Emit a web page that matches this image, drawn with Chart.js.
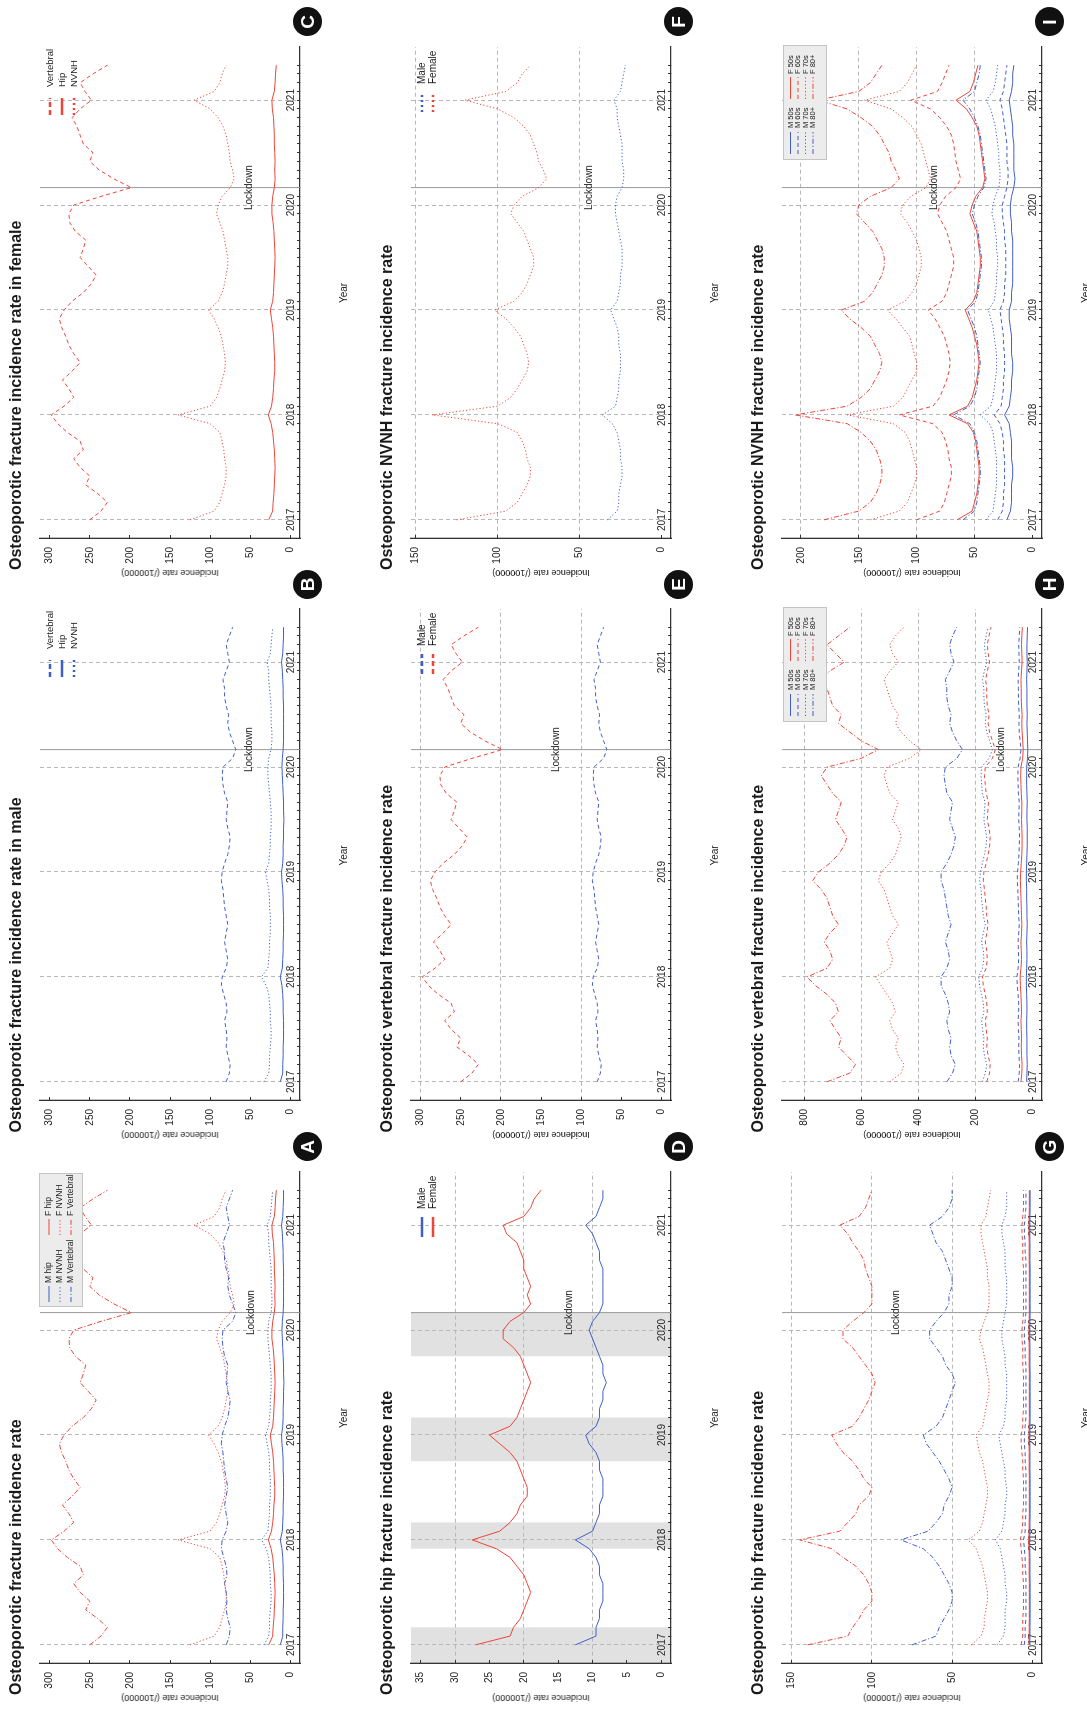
<!DOCTYPE html>
<html><head><meta charset="utf-8"><title>Osteoporotic fracture incidence</title>
<script src="https://cdn.jsdelivr.net/npm/chart.js@4.4.1/dist/chart.umd.min.js"></script>
<style>
html,body{margin:0;padding:0;background:#fff;}
body{width:1087px;height:1710px;overflow:hidden;position:relative;font-family:"Liberation Sans",Arial,Helvetica,sans-serif;color:#1a1a1a;}
#fig{position:absolute;left:0;top:0;width:1710px;height:1087px;transform-origin:0 0;transform:translate(0px,1710px) rotate(-90deg);overflow:hidden;background:#fff;}
.panel{position:absolute;width:562px;height:371px;}
.panel canvas{position:absolute;left:0;top:0;}
.ttl{position:absolute;left:15px;top:16px;transform:translateY(-50%);font-weight:bold;font-size:16px;white-space:nowrap;}
.xt{position:absolute;left:292px;top:343px;transform:translate(-50%,-50%);font-size:10px;white-space:nowrap;}
.yt{position:absolute;left:12px;top:170px;transform:translate(-50%,-50%) rotate(-90deg);font-size:9px;white-space:nowrap;}
.tag{position:absolute;width:29px;height:29px;border-radius:50%;background:#111;color:#fff;font-weight:bold;font-size:19px;line-height:29px;text-align:center;z-index:5;}
</style></head>
<body>
<div id="fig"></div>
<script>
// ---------------- data (monthly, Jan 2017 .. May 2021) ----------------
const yearLabels = ['2017','2018','2019','2020','2021'];
const lockdownMonth = 38;
const winterBands = [[-2.1,2],[11,14],[21,26],[33,38]];

const maleHip    = [12.5,9.5,9.5,9,9,8.5,8.5,8.5,9,9,9.5,10.5, 12.5,10,9.5,9,9,8.5,8.5,8.5,9,9,9.5,10.5, 11,9.5,9,9,8.5,8.5,8,8.5,8.5,9,9.5,10, 10.5,10,9,8.5,8.5,8.5,8.5,8.5,9,9,9.5,10, 11,9.5,9,8.5,8.5];
const femaleHip  = [27,22,21.5,20.5,20,19.5,19,19.5,20,21,22,24, 27.5,23.5,22,21,20.5,19.5,19.5,20,20.5,21,22,23.5, 25,22,21,20.5,20,19.5,19,19.5,20,20.5,21.5,23, 23,22,20,19,19.5,19,19.5,20,20,20.5,21,22.5, 23,20,19,18.5,17.5];
const maleVert   = [80,76,75,78,80,79,80,82,79,80,83,86, 85,80,78,80,82,80,78,80,82,83,84,86, 85,82,78,76,75,78,80,79,78,82,84,85, 84,72,68,72,76,78,77,80,82,82,84,80, 76,78,80,76,72];
const femaleVert = [250,236,228,240,255,250,262,270,258,262,278,290, 298,282,270,276,284,272,262,270,276,280,285,288, 282,272,258,248,242,252,262,258,255,268,275,276, 270,236,198,220,238,250,246,258,262,266,272,262, 248,256,262,246,228];
const maleNVNH   = [33,27,26,26,25,24,24,25,25,26,27,30, 36,28,27,26,26,25,25,25,26,26,27,29, 31,27,26,25,25,24,24,24,25,26,27,28, 28,27,24,23,23,24,24,24,25,26,27,27, 29,25,24,23,22];
const femaleNVNH = [125,95,88,85,82,80,80,82,83,85,88,100, 140,100,92,88,85,82,81,82,84,86,90,95, 102,90,85,82,80,78,78,80,82,84,88,92, 90,85,75,70,72,75,76,78,80,84,90,100, 120,95,88,85,80];

const hipM50 = [1.6,1.5,1.5,1.4,1.4,1.4,1.4,1.4,1.5,1.5,1.5,1.6, 1.7,1.5,1.5,1.4,1.4,1.4,1.4,1.4,1.5,1.5,1.5,1.6, 1.6,1.5,1.4,1.4,1.4,1.4,1.4,1.4,1.5,1.5,1.5,1.6, 1.6,1.5,1.4,1.4,1.4,1.4,1.4,1.4,1.5,1.5,1.5,1.6, 1.6,1.5,1.4,1.4,1.4];
const hipM60 = [5,4.5,4.5,4,4,4,4,4,4,4.5,4.5,5, 5.5,4.5,4.5,4,4,4,4,4,4,4.5,4.5,5, 5,4.5,4,4,4,4,4,4,4,4.5,4.5,5, 5,4.5,4,4,4,4,4,4,4,4.5,4.5,5, 5,4.5,4,4,4];
const hipM70 = [22,18,17,17,17,16,16,17,17,18,19,20, 23,19,18,17,17,16,16,17,17,18,19,20, 21,18,17,17,16,16,16,16,17,17,18,19, 19,18,17,16,16,16,16,17,17,17,18,19, 19,17,16,16,16];
const hipM80 = [75,60,58,55,52,50,50,52,55,58,62,68, 82,65,60,56,55,52,50,52,55,58,62,66, 68,60,56,54,52,50,48,50,54,56,60,64, 64,60,55,52,52,50,50,52,54,56,60,62, 64,56,52,50,50];
const hipF50 = [2.2,2,2,1.9,1.9,1.9,1.9,1.9,2,2,2,2.1, 2.3,2,2,1.9,1.9,1.9,1.9,1.9,2,2,2,2.1, 2.1,2,1.9,1.9,1.9,1.9,1.9,1.9,2,2,2,2.1, 2.1,2,1.9,1.9,1.9,1.9,1.9,1.9,2,2,2,2.1, 2.1,2,1.9,1.9,1.9];
const hipF60 = [7,6,6,6,5.5,5.5,5.5,5.5,6,6,6.5,7, 7.5,6.5,6,6,5.5,5.5,5.5,5.5,6,6,6.5,7, 7,6,6,5.5,5.5,5.5,5.5,5.5,6,6,6,6.5, 6.5,6,5.5,5.5,5.5,5.5,5.5,5.5,6,6,6,6.5, 6.5,6,5.5,5.5,5.5];
const hipF70 = [38,32,30,30,29,28,28,29,30,31,33,35, 40,33,31,30,29,28,28,29,30,31,33,34, 35,31,30,29,28,27,27,28,29,30,31,33, 32,30,28,27,27,27,28,28,29,30,31,32, 32,29,28,27,26];
const hipF80 = [140,115,112,108,105,100,100,102,105,110,118,125, 145,120,115,110,108,102,100,105,108,112,118,122, 125,112,108,105,102,100,98,100,104,108,112,118, 118,112,105,100,100,100,102,104,105,108,112,115, 120,108,104,102,100];

const vertM50 = [20,19,18,19,19,19,20,20,19,19,20,21, 21,20,19,19,20,19,18,19,19,20,20,21, 21,20,19,18,18,18,19,19,18,19,20,20, 20,17,16,17,18,19,18,19,19,19,20,19, 18,19,19,18,17];
const vertM60 = [50,46,45,47,48,47,49,50,48,48,50,53, 54,50,48,49,50,48,46,48,49,50,51,53, 52,49,47,46,45,46,48,47,46,49,50,51, 50,43,40,43,46,47,46,48,49,49,50,48, 46,47,48,46,44];
const vertM70 = [175,165,160,168,172,170,175,178,170,172,178,185, 188,175,170,172,178,172,165,172,175,178,180,185, 182,175,168,162,160,165,170,168,166,175,178,180, 178,152,140,150,160,165,162,168,170,170,175,168, 160,165,168,162,155];
const vertM80 = [300,280,270,285,290,285,295,300,290,295,305,320, 320,300,290,295,305,295,285,295,300,305,310,320, 320,300,285,275,270,280,290,285,280,300,305,310, 305,265,245,265,280,290,285,295,300,300,305,290, 275,285,290,280,265];
const vertF50 = [40,37,36,38,39,38,39,40,38,39,40,42, 43,40,38,39,40,38,37,38,39,40,41,42, 41,39,37,36,36,37,38,37,37,39,40,41, 40,34,32,34,36,37,36,38,39,39,40,38, 36,37,38,37,35];
const vertF60 = [160,150,148,155,160,158,162,165,158,160,165,172, 175,162,158,160,165,160,155,160,162,165,168,172, 170,162,155,150,148,152,158,156,154,162,165,168, 165,140,130,140,150,155,152,158,160,160,164,158, 150,155,158,152,145];
const vertF70 = [500,460,450,470,480,470,490,500,480,490,510,530, 550,500,490,500,510,490,470,490,500,510,520,540, 530,500,480,470,460,470,490,480,470,500,510,520, 510,430,390,430,460,480,470,490,500,510,520,500, 470,490,500,480,450];
const vertF80 = [720,640,620,650,680,670,690,710,680,690,720,760, 790,720,700,710,730,710,680,700,710,720,740,770, 750,710,680,660,650,670,690,680,670,700,720,740, 720,600,540,600,640,680,670,700,710,720,740,710, 660,690,720,680,640];

const nvnhM50 = [22,19,18,18,18,17,17,18,18,18,19,20, 24,20,19,18,18,17,17,18,18,18,19,20, 20,18,18,17,17,17,17,17,17,18,18,19, 19,18,16,15,16,16,16,16,17,17,18,19, 20,18,17,17,16];
const nvnhM60 = [30,26,25,25,24,24,24,24,25,25,26,28, 33,27,26,25,25,24,24,24,25,25,26,27, 28,25,24,24,23,23,23,23,24,24,25,26, 26,24,22,21,21,22,22,22,23,24,25,26, 28,25,24,23,22];
const nvnhM70 = [40,34,33,32,31,31,31,31,32,33,34,37, 45,36,34,33,32,31,31,31,32,33,34,36, 38,33,32,31,31,30,30,31,31,32,33,35, 34,32,29,28,28,29,29,30,31,32,34,36, 40,34,32,31,30];
const nvnhM80 = [60,50,48,47,46,45,45,46,47,48,50,54, 68,54,50,48,47,46,45,46,47,48,50,53, 56,49,47,46,45,44,44,45,46,47,49,52, 50,47,42,40,41,42,43,44,45,47,50,54, 60,50,48,46,45];
const nvnhF50 = [65,52,50,48,47,46,46,47,48,49,51,56, 72,56,52,50,48,47,46,47,48,50,52,55, 58,51,48,47,46,45,45,46,47,48,51,54, 52,49,43,41,42,43,44,45,46,48,52,57, 66,54,51,49,47];
const nvnhF60 = [100,80,76,74,72,70,70,72,73,75,78,86, 115,86,80,77,74,72,71,72,74,76,80,84, 90,78,74,72,70,68,68,70,72,74,78,82, 80,75,66,62,64,66,67,68,70,74,80,88, 105,82,78,75,72];
const nvnhF70 = [140,115,108,105,102,100,100,102,104,106,110,120, 160,120,112,108,104,100,100,102,104,106,112,118, 125,110,104,100,98,96,96,98,100,104,108,114, 112,105,92,88,90,92,94,96,100,104,112,122, 145,115,108,104,100];
const nvnhF80 = [180,150,140,135,132,130,130,132,135,140,148,160, 205,160,148,140,136,132,130,132,136,140,148,158, 165,145,138,134,130,128,128,130,134,138,145,152, 150,140,122,115,118,122,124,128,132,138,148,160, 185,150,140,135,130];

// ---------------- styles ----------------
const FONT = '"Liberation Sans", Arial, Helvetica, sans-serif';
const BLUE = '#3f5fc8', RED = '#ef4438';
const SOLID = [], DASH = [4,3], DOT = [1.2,2.2], DASHDOT = [5,2,1.2,2];
const LDASH = [5,3], LDOT = [2,3];

const P = {};
P.A = {col:0,row:0,title:'Osteoporotic fracture incidence rate',yr:[0,300],step:50,grid:[],lockY:251,
  series:[[maleHip,BLUE,SOLID],[maleNVNH,BLUE,DOT],[maleVert,BLUE,DASHDOT],[femaleHip,RED,SOLID],[femaleNVNH,RED,DOT],[femaleVert,RED,DASHDOT]],
  legend:{box:[403,39,537,83],font:8.5,rows:[49,60,71],cols:[
    {sx:[408,424],tx:427,items:[['M hip',BLUE,SOLID],['M NVNH',BLUE,DOT],['M Vertebral',BLUE,DASHDOT]]},
    {sx:[475,491],tx:494,items:[['F hip',RED,SOLID],['F NVNH',RED,DOT],['F Vertebral',RED,DASHDOT]]}],lw:1}};
P.B = {col:1,row:0,title:'Osteoporotic fracture incidence rate in male',yr:[0,300],step:50,grid:[],lockY:249,
  series:[[maleHip,BLUE,SOLID],[maleNVNH,BLUE,DOT],[maleVert,BLUE,DASH]],
  legend:{font:9.5,rows:[50,62,74],cols:[{sx:[470,487],tx:498,items:[['Vertebral',BLUE,LDASH],['Hip',BLUE,SOLID],['NVNH',BLUE,LDOT]]}],lw:2.5}};
P.C = {col:2,row:0,title:'Osteoporotic fracture incidence rate in female',yr:[0,300],step:50,grid:[],lockY:249,
  series:[[femaleHip,RED,SOLID],[femaleNVNH,RED,DOT],[femaleVert,RED,DASH]],
  legend:{font:9.5,rows:[50,62,74],cols:[{sx:[470,487],tx:498,items:[['Vertebral',RED,LDASH],['Hip',RED,SOLID],['NVNH',RED,LDOT]]}],lw:2.5}};
P.D = {col:0,row:1,title:'Osteoporotic hip fracture incidence rate',yr:[0,35],step:5,grid:[10,20,30],lockY:198,bands:winterBands,
  series:[[maleHip,BLUE,SOLID],[femaleHip,RED,SOLID]],
  legend:{font:10,rows:[51,62],cols:[{sx:[473,493],tx:501,items:[['Male',BLUE,SOLID],['Female',RED,SOLID]]}],lw:2.5}};
P.E = {col:1,row:1,title:'Osteoporotic vertebral fracture incidence rate',yr:[0,300],step:50,grid:[100,200,300],lockY:185,
  series:[[maleVert,BLUE,DASH],[femaleVert,RED,DASH]],
  legend:{font:10,rows:[51,62],cols:[{sx:[473,493],tx:501,items:[['Male',BLUE,LDASH],['Female',RED,LDASH]]}],lw:2.5}};
P.F = {col:2,row:1,title:'Osteoporotic NVNH fracture incidence rate',yr:[0,147],step:50,grid:[50,100,150],lockY:218,
  series:[[maleNVNH,BLUE,DOT],[femaleNVNH,RED,DOT]],
  legend:{font:10,rows:[51,62],cols:[{sx:[473,493],tx:501,items:[['Male',BLUE,LDOT],['Female',RED,LDOT]]}],lw:2.5}};
const ageLegend = {box:[425,41,540,85],font:7.5,rows:[48.5,56,63.5,71],cols:[
  {sx:[431,453],tx:457,items:[['M 50s',BLUE,SOLID],['M 60s',BLUE,DASH],['M 70s',BLUE,DOT],['M 80+',BLUE,DASHDOT]]},
  {sx:[486,508],tx:511,items:[['F 50s',RED,SOLID],['F 60s',RED,DASH],['F 70s',RED,DOT],['F 80+',RED,DASHDOT]]}],lw:1};
P.G = {col:0,row:2,title:'Osteoporotic hip fracture incidence rate',yr:[0,150],step:50,grid:[50,100,150],lockY:154,
  series:[[hipM50,BLUE,SOLID],[hipM60,BLUE,DASH],[hipM70,BLUE,DOT],[hipM80,BLUE,DASHDOT],[hipF50,RED,SOLID],[hipF60,RED,DASH],[hipF70,RED,DOT],[hipF80,RED,DASHDOT]]};
P.H = {col:1,row:2,title:'Osteoporotic vertebral fracture incidence rate',yr:[0,844],step:200,grid:[200,400,600,800],lockY:259,
  series:[[vertM50,BLUE,SOLID],[vertM60,BLUE,DASH],[vertM70,BLUE,DOT],[vertM80,BLUE,DASHDOT],[vertF50,RED,SOLID],[vertF60,RED,DASH],[vertF70,RED,DOT],[vertF80,RED,DASHDOT]],
  legend:ageLegend};
P.I = {col:2,row:2,title:'Osteoporotic NVNH fracture incidence rate',yr:[0,208],step:50,grid:[50,100,150,200],lockY:192,
  series:[[nvnhM50,BLUE,SOLID],[nvnhM60,BLUE,DASH],[nvnhM70,BLUE,DOT],[nvnhM80,BLUE,DASHDOT],[nvnhF50,RED,SOLID],[nvnhF60,RED,DASH],[nvnhF70,RED,DOT],[nvnhF80,RED,DASHDOT]],
  legend:ageLegend};

const LAST = maleHip.length - 1;

function line(ctx, x0, y0, x1, y1, color, w, dash) {
  ctx.save(); ctx.strokeStyle = color; ctx.lineWidth = w; ctx.setLineDash(dash || []);
  ctx.beginPath(); ctx.moveTo(x0, y0); ctx.lineTo(x1, y1); ctx.stroke(); ctx.restore();
}

function makeDeco(def) {
  return {
    id: 'deco',
    beforeDraw(chart) {
      if (!def.bands) return;
      const {ctx, chartArea: ca, scales: {x}} = chart;
      ctx.save(); ctx.fillStyle = '#e1e1e1';
      for (const [a, b] of def.bands) {
        const p0 = Math.max(x.getPixelForValue(a), ca.left), p1 = Math.min(x.getPixelForValue(b), ca.right);
        ctx.fillRect(p0, ca.top, p1 - p0, ca.bottom - ca.top);
      }
      ctx.restore();
    },
    beforeDatasetsDraw(chart) {
      const {ctx, chartArea: ca, scales: {x}} = chart;
      const px = x.getPixelForValue(lockdownMonth);
      line(ctx, px, ca.top, px, ca.bottom, '#9a9a9a', 1, []);
      ctx.save(); ctx.font = '10px ' + FONT; ctx.fillStyle = '#222'; ctx.textAlign = 'center'; ctx.textBaseline = 'middle';
      ctx.fillText('Lockdown', px, def.lockY);
      // year tick labels, inside the plot just above the time axis
      yearLabels.forEach((lab, k) => ctx.fillText(lab, x.getPixelForValue(k * 12), ca.bottom - 9));
      ctx.restore();
    },
    afterDatasetsDraw(chart) {
      const L = def.legend; if (!L) return;
      const ctx = chart.ctx;
      if (L.box) {
        const [x0, y0, x1, y1] = L.box;
        ctx.save(); ctx.fillStyle = '#ececec'; ctx.strokeStyle = '#c4c4c4'; ctx.lineWidth = 1;
        ctx.fillRect(x0, y0, x1 - x0, y1 - y0); ctx.strokeRect(x0 + 0.5, y0 + 0.5, x1 - x0 - 1, y1 - y0 - 1); ctx.restore();
      }
      ctx.save(); ctx.font = L.font + 'px ' + FONT; ctx.fillStyle = '#1a1a1a'; ctx.textBaseline = 'middle'; ctx.textAlign = 'left';
      for (const col of L.cols) {
        col.items.forEach((it, k) => {
          const yy = L.rows[k];
          line(ctx, col.sx[0], yy, col.sx[1], yy, it[1], L.lw, it[2]);
          ctx.fillText(it[0], col.tx, yy);
        });
      }
      ctx.restore();
    }
  };
}

const fig = document.getElementById('fig');
Object.keys(P).forEach(tag => {
  const def = P[tag];
  const ox = def.col * 562.5, oy = def.row * 371;
  const wrap = document.createElement('div'); wrap.className = 'panel';
  wrap.style.left = ox + 'px'; wrap.style.top = oy + 'px';
  const cv = document.createElement('canvas'); cv.width = 562; cv.height = 371;
  wrap.appendChild(cv);
  const t = document.createElement('div'); t.className = 'ttl'; t.textContent = def.title; wrap.appendChild(t);
  const xt = document.createElement('div'); xt.className = 'xt'; xt.textContent = 'Year'; wrap.appendChild(xt);
  const yt = document.createElement('div'); yt.className = 'yt'; yt.textContent = 'Incidence rate (/100000)'; wrap.appendChild(yt);
  fig.appendChild(wrap);
  const tg = document.createElement('div'); tg.className = 'tag'; tg.textContent = tag;
  tg.style.left = (ox + 563 - 14.5) + 'px'; tg.style.top = (oy + 307 - 14.5) + 'px';
  fig.appendChild(tg);

  const lo = def.yr[0], hi = def.yr[1], pad = 0.04 * (hi - lo);
  new Chart(cv, {
    type: 'line',
    data: {datasets: def.series.map(([arr, color, dash]) => ({
      data: arr.map((v, i) => ({x: i, y: v})), borderColor: color, borderDash: dash,
      borderWidth: 1, pointRadius: 0, fill: false, tension: 0}))},
    options: {
      responsive: false, animation: false, devicePixelRatio: 1,
      layout: {padding: {left: 0, top: 40, right: 24, bottom: 0}},
      plugins: {legend: {display: false}, tooltip: {enabled: false}},
      scales: {
        x: {type: 'linear', min: -0.04 * LAST, max: LAST * 1.04,
          afterFit(s) { s.height = 71; },
          ticks: {display: false, stepSize: 1, maxTicksLimit: 200, autoSkip: false, includeBounds: false, maxRotation: 0, minRotation: 0},
          grid: {color: c => (c.tick && c.tick.value % 12 === 0 && c.tick.value >= 0 && c.tick.value <= 48) ? '#b8b8b8' : 'rgba(0,0,0,0)',
            lineWidth: 1, tickLength: -3,
            tickColor: c => (c.tick && c.tick.value >= 0 && c.tick.value <= LAST) ? '#333' : 'rgba(0,0,0,0)'},
          border: {display: true, color: '#333', width: 1.3, dash: [4, 3]}},
        y: {type: 'linear', min: lo - pad, max: hi + pad,
          afterFit(s) { s.width = 47; },
          ticks: {stepSize: def.step, includeBounds: false, padding: 12, font: {size: 10, family: FONT}, color: '#1a1a1a'},
          grid: {color: c => (c.tick && def.grid.includes(c.tick.value)) ? '#b8b8b8' : 'rgba(0,0,0,0)', lineWidth: 1, tickLength: -3, tickColor: '#333'},
          border: {display: true, color: '#333', width: 1.3, dash: [4, 3]}}
      }
    },
    plugins: [makeDeco(def)]
  });
});
</script>
</body></html>
